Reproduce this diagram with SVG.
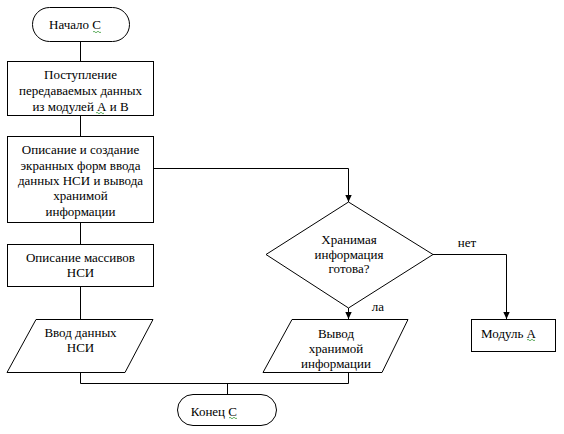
<svg xmlns="http://www.w3.org/2000/svg" width="564" height="434" viewBox="0 0 564 434">
<style>
.s{fill:#fff;stroke:#000;stroke-width:1}
.c{fill:none;stroke:#000;stroke-width:1}
.t{font-family:"Liberation Serif","Times New Roman",serif;font-size:13px;fill:#000;text-anchor:middle;dominant-baseline:central}
.e{text-anchor:end}
.q{fill:none;stroke:#3a9a3a;stroke-width:0.8}
</style>
<defs>
<marker id="ah" markerWidth="8" markerHeight="8" refX="7" refY="4" orient="auto" markerUnits="userSpaceOnUse">
<path d="M0,0.8 L7,4 L0,7.2 Z" fill="#000"/>
</marker>
</defs>
<rect width="564" height="434" fill="#fff"/>
<g id="connectors">
<path class="c" d="M80.5,41 V61"/>
<path class="c" d="M80.5,115 V136"/>
<path class="c" d="M80.5,222 V244"/>
<path class="c" d="M80.5,286 V319"/>
<path class="c" d="M153,168.5 H348.5 V202" marker-end="url(#ah)"/>
<path class="c" d="M348.5,308 V319" marker-end="url(#ah)"/>
<path class="c" d="M433,254.5 H506.5 V319" marker-end="url(#ah)"/>
<path class="c" d="M80.5,372 V383.5 H348.5 V372"/>
<path class="c" d="M227.5,383.5 V394"/>
<text class="t" x="378" y="306">ла</text>
<text class="t" x="467" y="242">нет</text>
</g>
<g id="start">
<rect class="s" x="32.5" y="7.5" width="97" height="34" rx="17"/>
<text class="t e" x="101" y="24">Начало С</text>
<path class="q" d="M93,32 q1,-1.5 2,0 t2,0 t2,0 t2,0"/>
</g>
<g id="receive">
<rect class="s" x="7.5" y="61.5" width="146" height="54"/>
<text class="t" x="80.5" y="74">Поступление</text>
<text class="t" x="80.5" y="90">передаваемых данных</text>
<text class="t" x="80.5" y="106">из модулей А и В</text>
<path class="q" d="M96,113 q1,-1.5 2,0 t2,0 t2,0 t2,0"/>
</g>
<g id="describe-forms">
<rect class="s" x="7.5" y="136.5" width="146" height="86"/>
<text class="t" x="80.5" y="149">Описание и создание</text>
<text class="t" x="80.5" y="165">экранных форм ввода</text>
<text class="t" x="80.5" y="180">данных НСИ и вывода</text>
<text class="t" x="80.5" y="195">хранимой</text>
<text class="t" x="80.5" y="211">информации</text>
</g>
<g id="describe-arrays">
<rect class="s" x="7.5" y="244.5" width="146" height="42"/>
<text class="t" x="80.5" y="257">Описание массивов</text>
<text class="t" x="80.5" y="272">НСИ</text>
</g>
<g id="input">
<polygon class="s" points="36,319.5 153,319.5 125,372.5 7,372.5"/>
<text class="t" x="80.5" y="332">Ввод данных</text>
<text class="t" x="80.5" y="347">НСИ</text>
</g>
<g id="decision">
<polygon class="s" points="348.5,202 433,254.5 348.5,308 266,254.5"/>
<text class="t" x="349" y="239">Хранимая</text>
<text class="t" x="349" y="254">информация</text>
<text class="t" x="349" y="268">готова?</text>
</g>
<g id="output">
<polygon class="s" points="292,319.5 408,319.5 382,372.5 263,372.5"/>
<text class="t" x="336" y="333">Вывод</text>
<text class="t" x="336" y="348">хранимой</text>
<text class="t" x="336" y="363">информации</text>
</g>
<g id="module-a">
<rect class="s" x="471.5" y="319.5" width="84" height="32"/>
<text class="t e" x="536" y="333">Модуль А</text>
<path class="q" d="M527,340 q1,-1.5 2,0 t2,0 t2,0 t2,0"/>
</g>
<g id="end">
<rect class="s" x="177.5" y="394.5" width="99" height="31" rx="15.5"/>
<text class="t e" x="237" y="411">Конец С</text>
<path class="q" d="M229,418 q1,-1.5 2,0 t2,0 t2,0 t2,0"/>
</g>
</svg>
